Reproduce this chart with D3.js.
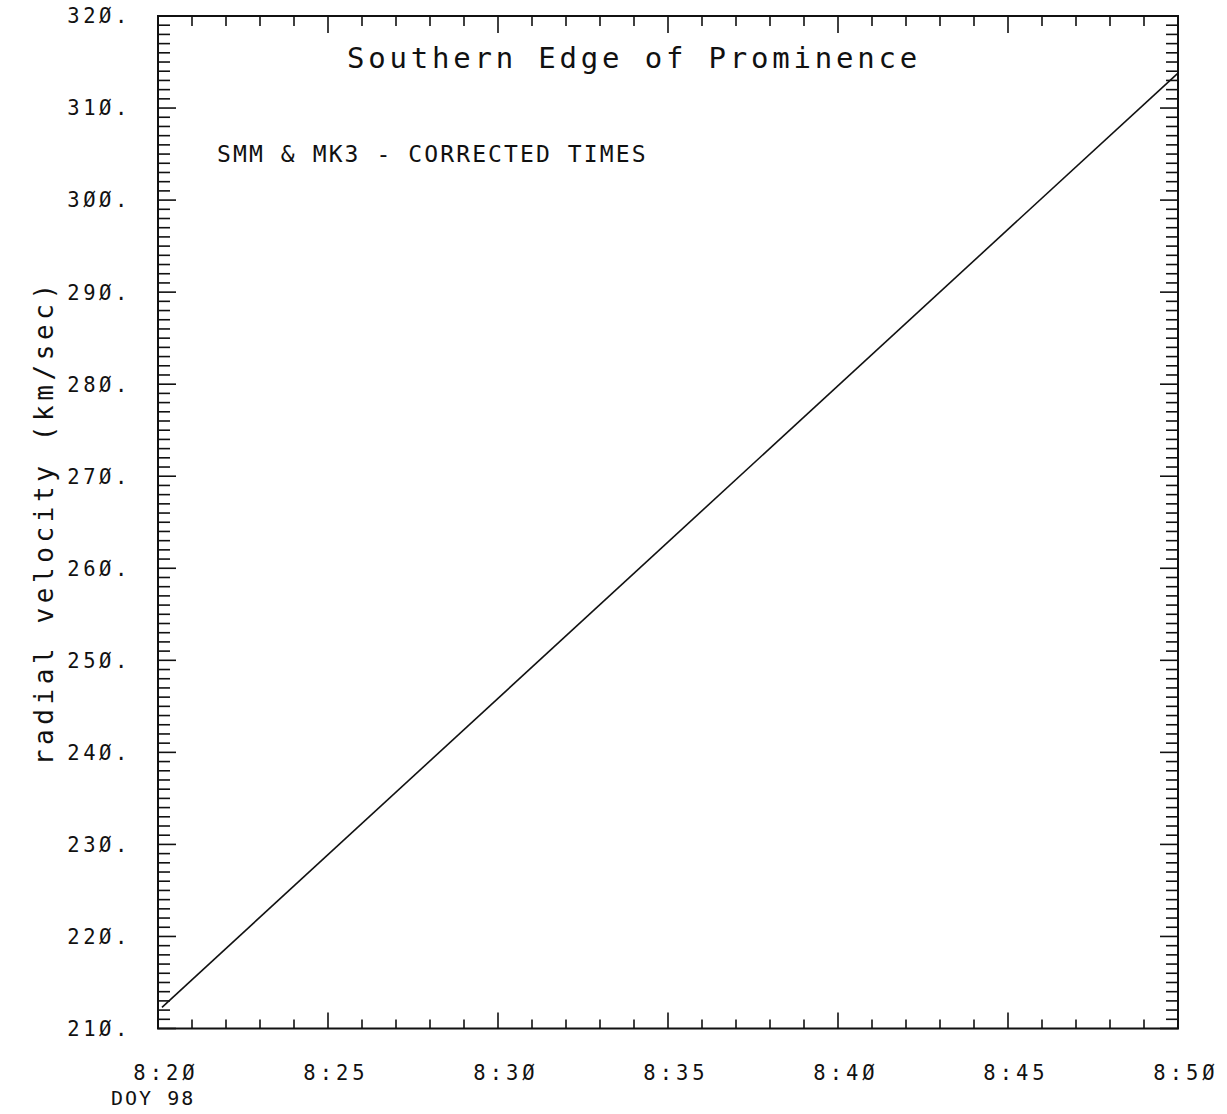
<!DOCTYPE html>
<html><head><meta charset="utf-8">
<script src="https://cdn.jsdelivr.net/npm/d3@7/dist/d3.min.js"></script>
<style>
body{margin:0;background:#fff;}
svg{display:block;}
text{font-family:"DejaVu Sans Mono",monospace;fill:#111;}
</style></head>
<body><svg id="c" width="1227" height="1114"></svg>
<script>
// ---- data ----
const times = ["08:20:07", "08:50:00"];          // DOY 98
const velocity = [212.3, 313.8];                  // km/sec
const xDomain = ["08:20:00", "08:50:00"];
const yDomain = [210, 320];
const yTickValues = [210, 220, 230, 240, 250, 260, 270, 280, 290, 300, 310, 320];
const titleText = "Southern Edge of Prominence";
const noteText = "SMM & MK3 - CORRECTED TIMES";
const yTitle = "radial velocity (km/sec)";
const dayLabel = "DOY 98";

// ---- layout ----
const L = 158, R = 1178, T = 16, B = 1028.5;
const svg = d3.select("#c");
const parse = d3.timeParse("%H:%M:%S");
const x = d3.scaleTime().domain(xDomain.map(parse)).range([L, R]);
const y = d3.scaleLinear().domain(yDomain).range([B, T]);
const slash0 = s => s.replace(/0/g, "\u00D8");

const g = svg.append("g");

// frame
g.append("rect").attr("x", L).attr("y", T).attr("width", R - L).attr("height", B - T)
  .attr("fill", "none").attr("stroke", "#111").attr("stroke-width", 2);

const minorX = d3.timeMinute.every(1).range(x.domain()[0], new Date(+x.domain()[1] + 1));
const majorX = d3.timeMinute.every(5).range(x.domain()[0], new Date(+x.domain()[1] + 1));
const minorY = d3.range(yDomain[0], yDomain[1] + 0.5, 1);

function isMajorX(d){ return d.getMinutes() % 5 === 0; }
function isMajorY(v){ return v % 10 === 0; }

// x ticks bottom & top (inward)
const tk = g.append("g").attr("stroke", "#111").attr("stroke-width", 1.6);
minorX.forEach(d => {
  const len = isMajorX(d) ? 16 : 9;
  tk.append("line").attr("x1", x(d)).attr("x2", x(d)).attr("y1", B).attr("y2", B - len);
  tk.append("line").attr("x1", x(d)).attr("x2", x(d)).attr("y1", T).attr("y2", T + (isMajorX(d) ? 17 : 10));
});
// y ticks left & right (inward)
minorY.forEach(v => {
  const len = isMajorY(v) ? 18 : 12;
  tk.append("line").attr("x1", L).attr("x2", L + len).attr("y1", y(v)).attr("y2", y(v));
  tk.append("line").attr("x1", R).attr("x2", R - len).attr("y1", y(v)).attr("y2", y(v));
});

// x tick labels
const fmt = d3.timeFormat("%-H:%M");
g.selectAll(".xl").data(majorX).join("text")
  .attr("x", d => x(d) + 8).attr("y", 1080)
  .attr("text-anchor", "middle").attr("font-size", 20.5).attr("letter-spacing", 4)
  .text(d => slash0(fmt(d)));
g.append("text").attr("x", 111).attr("y", 1105).attr("font-size", 20).attr("letter-spacing", 2)
  .text(dayLabel);

// y tick labels
g.selectAll(".yl").data(yTickValues).join("text")
  .attr("x", 131).attr("y", d => y(d)).attr("dy", "0.36em")
  .attr("text-anchor", "end").attr("font-size", 20.5).attr("letter-spacing", 3.6)
  .text(d => slash0(d + "."));

// y axis title
g.append("text").attr("transform", `translate(53,${(T + B) / 2}) rotate(-90)`)
  .attr("text-anchor", "middle").attr("font-size", 26).attr("letter-spacing", 4.6)
  .text(yTitle);

// title & note
g.append("text").attr("x", 347).attr("y", 68).attr("font-size", 29).attr("letter-spacing", 3.8)
  .text(titleText);
g.append("text").attr("x", 217).attr("y", 162).attr("font-size", 23).attr("letter-spacing", 2.1)
  .text(noteText);

// data line
const pts = times.map((t, i) => [parse(t), velocity[i]]);
g.append("path").datum(pts)
  .attr("d", d3.line().x(d => x(d[0])).y(d => y(d[1])))
  .attr("fill", "none").attr("stroke", "#111").attr("stroke-width", 1.6);
</script></body></html>
